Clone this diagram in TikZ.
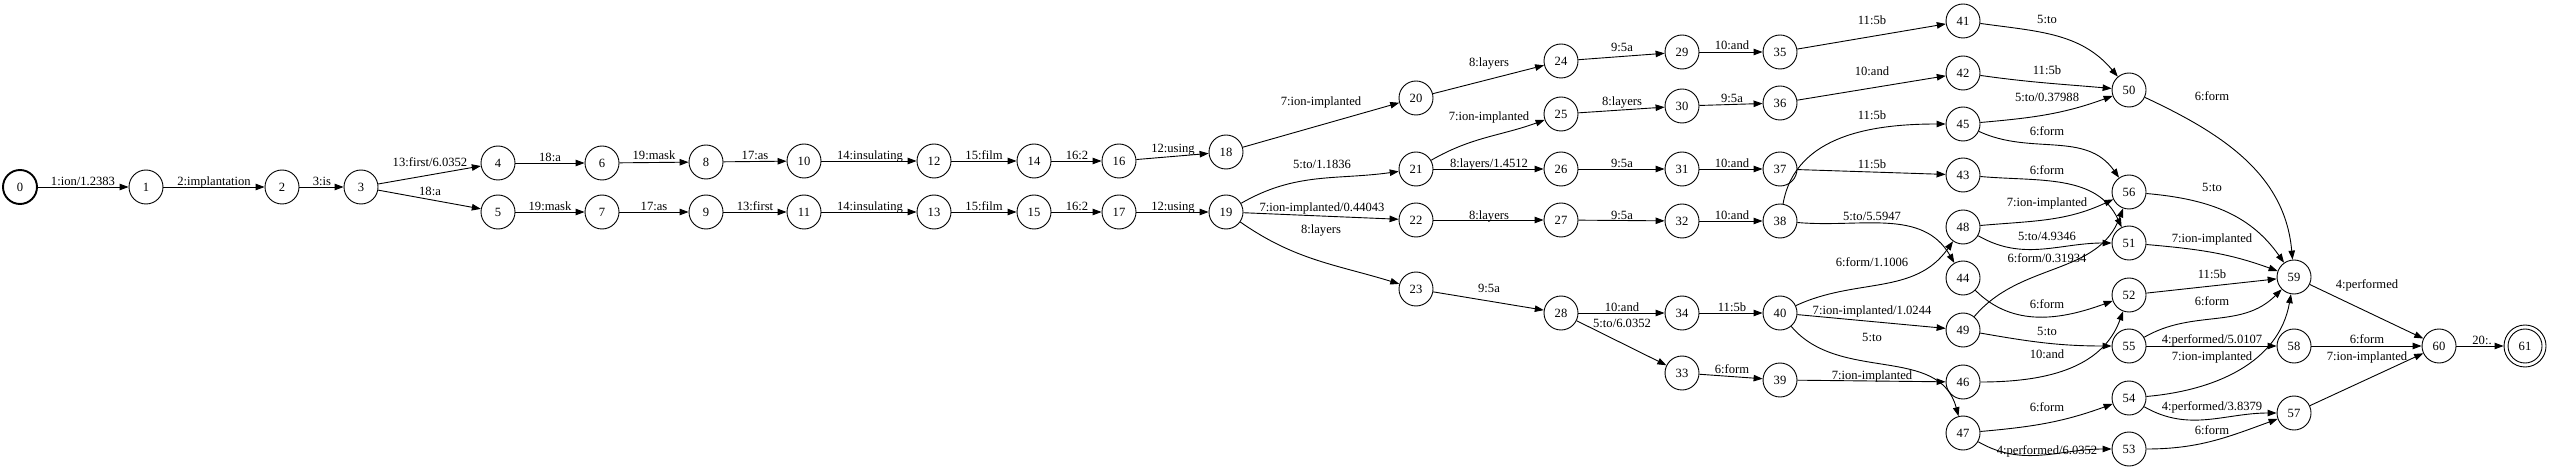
\documentclass[tikz,border=0pt]{standalone}
\usepackage{fontspec}
\setmainfont{Liberation Serif}
\usetikzlibrary{arrows.meta}
\tikzset{
  st/.style={circle,draw,line width=0.9pt,minimum size=34pt,inner sep=0pt,font=\fontsize{12.6}{14}\selectfont},
  lbl/.style={inner sep=0pt,text height=8.4pt,text depth=0pt,font=\fontsize{12.6}{14}\selectfont},
  arr/.style={line width=0.9pt,-{Triangle[length=9pt,width=6.5pt]}}
}
\newcommand{\fe}[6]{\draw[arr] (#1) #3 (#2); \node[lbl] (l#1-#2) at (#4,-#5) {#6};}
\begin{document}
\begin{tikzpicture}[x=1pt,y=1pt]
\useasboundingbox (0,0) rectangle (2550,-470);
\node[st,line width=1.9pt] (0) at (20,-187) {0};
\foreach \n/\x/\y in {1/146/187,2/282/187,3/361/187,4/498/163,5/498/212,6/602/163,7/602/212,
  8/706/162,9/706/212,10/804/161,11/804/212,12/934/161,13/934/212,14/1034/161,15/1034/212,
  16/1119/161,17/1119/212,18/1226/152,19/1226/212,20/1416/98,21/1416/169,22/1416/220,23/1416/289,
  24/1561/61,25/1561/114,26/1561/169,27/1561/220,28/1561/313,29/1682/52,30/1682/106,31/1682/169,
  32/1682/221,33/1682/373,34/1682/313,35/1780/52,36/1780/103,37/1780/169,38/1780/221,39/1780/380,
  40/1780/313,41/1963/21,42/1963/73,43/1963/175,44/1963/278,45/1963/124,46/1963/382,47/1963/433,
  48/1963/227,49/1963/330,50/2129/90,51/2129/243,52/2129/295,53/2129/449,54/2129/398,55/2129/346,
  56/2129/192,57/2294/413,58/2294/346,59/2294/277,60/2439/346}
  {\node[st] (\n) at (\x,-\y) {\n};}
\node[st,minimum size=42pt] (61) at (2525,-346) {61};
\draw[line width=0.9pt] (61.center) circle (17);
\fe{0}{1}{--}{83}{181}{1:ion/1.2383}
\fe{1}{2}{--}{214}{181}{2:implantation}
\fe{2}{3}{--}{322}{181}{3:is}
\fe{3}{4}{--}{430}{162}{13:first/6.0352}
\fe{3}{5}{--}{430}{191}{18:a}
\fe{4}{6}{--}{550}{157}{18:a}
\fe{6}{8}{--}{654}{155}{19:mask}
\fe{8}{10}{--}{755}{155}{17:as}
\fe{10}{12}{--}{870}{155}{14:insulating}
\fe{5}{7}{--}{550}{206}{19:mask}
\fe{7}{9}{--}{654}{206}{17:as}
\fe{9}{11}{--}{755}{206}{13:first}
\fe{11}{13}{--}{870}{206}{14:insulating}
\fe{12}{14}{--}{984}{155}{15:film}
\fe{14}{16}{--}{1077}{155}{16:2}
\fe{16}{18}{--}{1173}{148}{12:using}
\fe{13}{15}{--}{984}{206}{15:film}
\fe{15}{17}{--}{1077}{206}{16:2}
\fe{17}{19}{--}{1173}{206}{12:using}
\fe{18}{20}{--}{1321}{101}{7:ion-implanted}
\fe{19}{21}{to[out=30,in=188]}{1322}{164}{5:to/1.1836}
\fe{19}{22}{--}{1322}{207}{7:ion-implanted/0.44043}
\fe{19}{23}{to[out=-35,in=163]}{1321}{229}{8:layers}
\fe{20}{24}{--}{1489}{62}{8:layers}
\fe{21}{25}{to[out=30,in=200]}{1489}{116}{7:ion-implanted}
\fe{21}{26}{--}{1489}{163}{8:layers/1.4512}
\fe{22}{27}{--}{1489}{215}{8:layers}
\fe{23}{28}{--}{1489}{288}{9:5a}
\fe{24}{29}{--}{1622}{47}{9:5a}
\fe{25}{30}{--}{1622}{101}{8:layers}
\fe{26}{31}{--}{1622}{163}{9:5a}
\fe{27}{32}{--}{1622}{215}{9:5a}
\fe{28}{34}{--}{1622}{307}{10:and}
\fe{28}{33}{--}{1622}{323}{5:to/6.0352}
\fe{29}{35}{--}{1732}{45}{10:and}
\fe{30}{36}{--}{1732}{98}{9:5a}
\fe{31}{37}{--}{1732}{163}{10:and}
\fe{32}{38}{--}{1732}{215}{10:and}
\fe{34}{40}{--}{1732}{307}{11:5b}
\fe{33}{39}{--}{1732}{369}{6:form}
\fe{35}{41}{--}{1872}{20}{11:5b}
\fe{36}{42}{--}{1872}{71}{10:and}
\fe{38}{45}{to[out=80,in=180]}{1872}{115}{11:5b}
\fe{37}{43}{--}{1872}{164}{11:5b}
\fe{38}{44}{to[out=-5,in=120]}{1872}{216}{5:to/5.5947}
\fe{40}{48}{to[out=25,in=235]}{1872}{262}{6:form/1.1006}
\fe{40}{49}{--}{1872}{310}{7:ion-implanted/1.0244}
\fe{40}{47}{to[out=-50,in=105]}{1872}{337}{5:to}
\fe{39}{46}{--}{1872}{375}{7:ion-implanted}
\fe{41}{50}{to[out=-8,in=130]}{2047}{19}{5:to}
\fe{42}{50}{to[out=-8,in=175]}{2047}{70}{11:5b}
\fe{45}{50}{to[out=5,in=200]}{2047}{97}{5:to/0.37988}
\fe{45}{56}{to[out=-25,in=125]}{2047}{131}{6:form}
\fe{43}{51}{to[out=-5,in=115]}{2047}{170}{6:form}
\fe{48}{56}{to[out=5,in=205]}{2047}{202}{7:ion-implanted}
\fe{48}{51}{to[out=-30,in=180]}{2047}{236}{5:to/4.9346}
\fe{49}{56}{to[out=50,in=250]}{2047}{258}{6:form/0.31934}
\fe{44}{52}{to[out=-45,in=200]}{2047}{304}{6:form}
\fe{49}{55}{to[out=-10,in=180]}{2047}{331}{5:to}
\fe{46}{52}{to[out=0,in=250]}{2047}{354}{10:and}
\fe{47}{54}{to[out=5,in=200]}{2047}{407}{6:form}
\fe{47}{53}{to[out=-30,in=180]}{2047}{450}{4:performed/6.0352}
\fe{50}{59}{to[out=-25,in=95]}{2212}{96}{6:form}
\fe{56}{59}{to[out=-5,in=125]}{2212}{187}{5:to}
\fe{51}{59}{to[out=-5,in=160]}{2212}{238}{7:ion-implanted}
\fe{52}{59}{--}{2212}{274}{11:5b}
\fe{55}{59}{to[out=30,in=225]}{2212}{301}{6:form}
\fe{55}{58}{--}{2212}{339}{4:performed/5.0107}
\fe{54}{59}{to[out=5,in=260]}{2212}{356}{7:ion-implanted}
\fe{54}{57}{to[out=-30,in=180]}{2212}{406}{4:performed/3.8379}
\fe{53}{57}{to[out=0,in=200]}{2212}{430}{6:form}
\fe{59}{60}{--}{2367}{284}{4:performed}
\fe{58}{60}{--}{2367}{339}{6:form}
\fe{57}{60}{--}{2367}{356}{7:ion-implanted}
\fe{60}{61}{--}{2482}{340}{20:.}
\end{tikzpicture}
\end{document}
